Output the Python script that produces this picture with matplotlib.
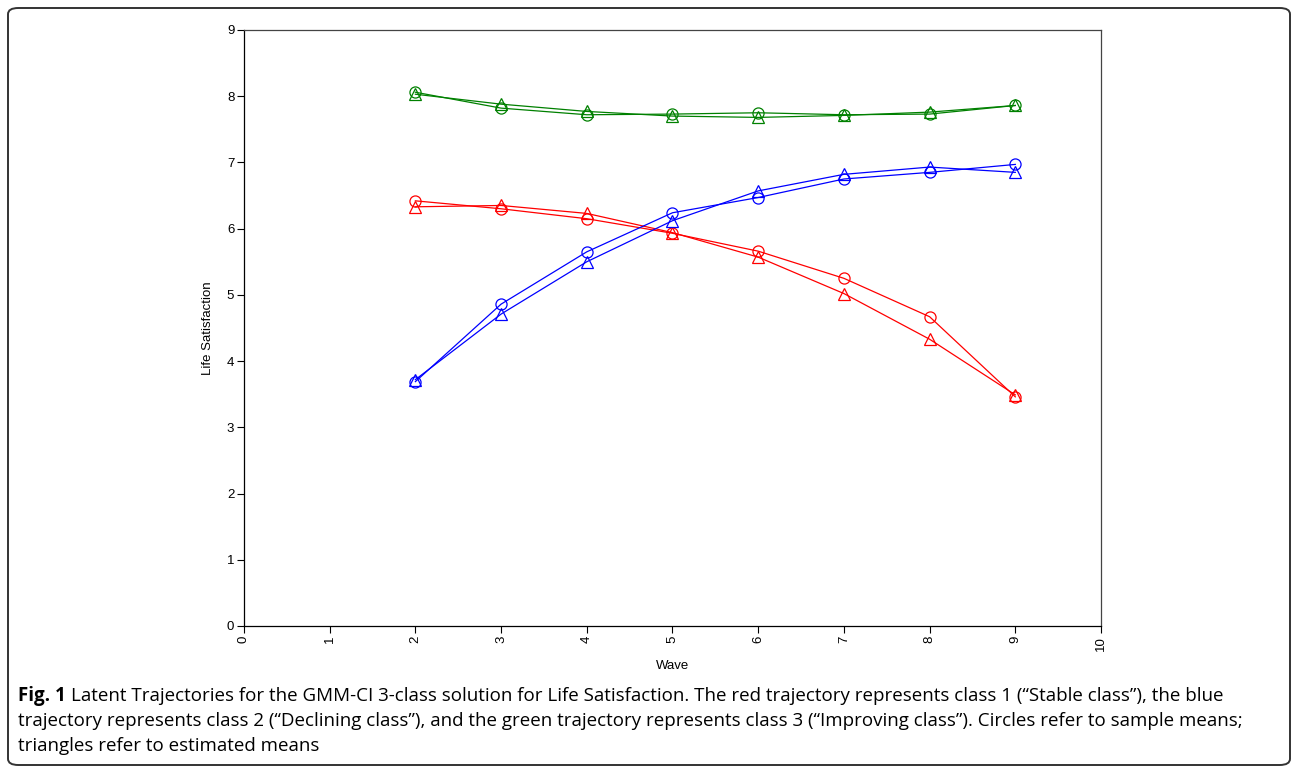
import matplotlib
matplotlib.use("Agg")
import matplotlib.pyplot as plt
from matplotlib.patches import FancyBboxPatch

waves = [2, 3, 4, 5, 6, 7, 8, 9]

# sample means (circles)
red_sample = [6.42, 6.30, 6.15, 5.93, 5.66, 5.25, 4.67, 3.46]
blue_sample = [3.69, 4.86, 5.65, 6.24, 6.47, 6.75, 6.85, 6.97]
green_sample = [8.06, 7.82, 7.72, 7.73, 7.75, 7.72, 7.73, 7.86]

# estimated means (triangles)
red_est = [6.33, 6.35, 6.23, 5.94, 5.57, 5.02, 4.33, 3.49]
blue_est = [3.72, 4.71, 5.50, 6.12, 6.57, 6.82, 6.93, 6.85]
green_est = [8.03, 7.88, 7.77, 7.70, 7.68, 7.71, 7.76, 7.86]

x_ticks = list(range(0, 11))
y_ticks = list(range(0, 10))

caption_bold = "Fig. 1"
caption_lines = [
    "Latent Trajectories for the GMM-CI 3-class solution for Life Satisfaction. The red trajectory represents class 1 (\u201cStable class\u201d), the blue",
    "trajectory represents class 2 (\u201cDeclining class\u201d), and the green trajectory represents class 3 (\u201cImproving class\u201d). Circles refer to sample means;",
    "triangles refer to estimated means",
]

fig = plt.figure(figsize=(12.95, 7.69), dpi=100)
ax = fig.add_axes([0.1884, 0.186, 0.6618, 0.775])

series = [
    (red_sample, red_est, "#ff0000"),
    (blue_sample, blue_est, "#0000ff"),
    (green_sample, green_est, "#008000"),
]
for samp, est, col in series:
    ax.plot(waves, samp, color=col, lw=0.9, marker="o", ms=8,
            mfc="none", mec=col, mew=0.9)
    ax.plot(waves, est, color=col, lw=0.9, marker="^", ms=8,
            mfc="none", mec=col, mew=0.9)

ax.set_xlim(0, 10)
ax.set_ylim(0, 9)
ax.set_xticks(x_ticks)
ax.set_yticks(y_ticks)
tick_font = dict(family="Liberation Sans", size=9.5)
ax.set_xticklabels([str(t) for t in x_ticks], rotation=90, **tick_font)
ax.set_yticklabels([str(t) for t in y_ticks], **tick_font)
ax.tick_params(direction="out", length=5, width=0.8, pad=2)
for s in ax.spines.values():
    s.set_linewidth(0.9)
ax.spines["top"].set_color("#444444")
ax.spines["right"].set_color("#444444")

ax.set_xlabel("Wave", family="Liberation Sans", size=9.5, labelpad=7)
ax.set_ylabel("Life Satisfaction", family="Liberation Sans", size=9.5, labelpad=9)

# rounded frame around the whole figure
frame = FancyBboxPatch((8 / 1295, 4 / 769), 1282 / 1295, 757 / 769,
                       boxstyle="round,pad=0,rounding_size=0.008",
                       transform=fig.transFigure, fill=False,
                       ec="#333333", lw=1.4)
fig.patches.append(frame)

# caption
cap_font = dict(family="Open Sans", size=13.5)
y0 = 1 - 696 / 769
dy = 25 / 769
t = fig.text(18 / 1295, y0, caption_bold, weight="bold", va="center", **cap_font)
fig.canvas.draw()
bb = t.get_window_extent()
fig.text(bb.x1 / 1295 + 5 / 1295, y0, caption_lines[0], va="center", **cap_font)
fig.text(18 / 1295, y0 - dy, caption_lines[1], va="center", **cap_font)
fig.text(18 / 1295, y0 - 2 * dy, caption_lines[2], va="center", **cap_font)

fig.savefig("out.png", dpi=100)
